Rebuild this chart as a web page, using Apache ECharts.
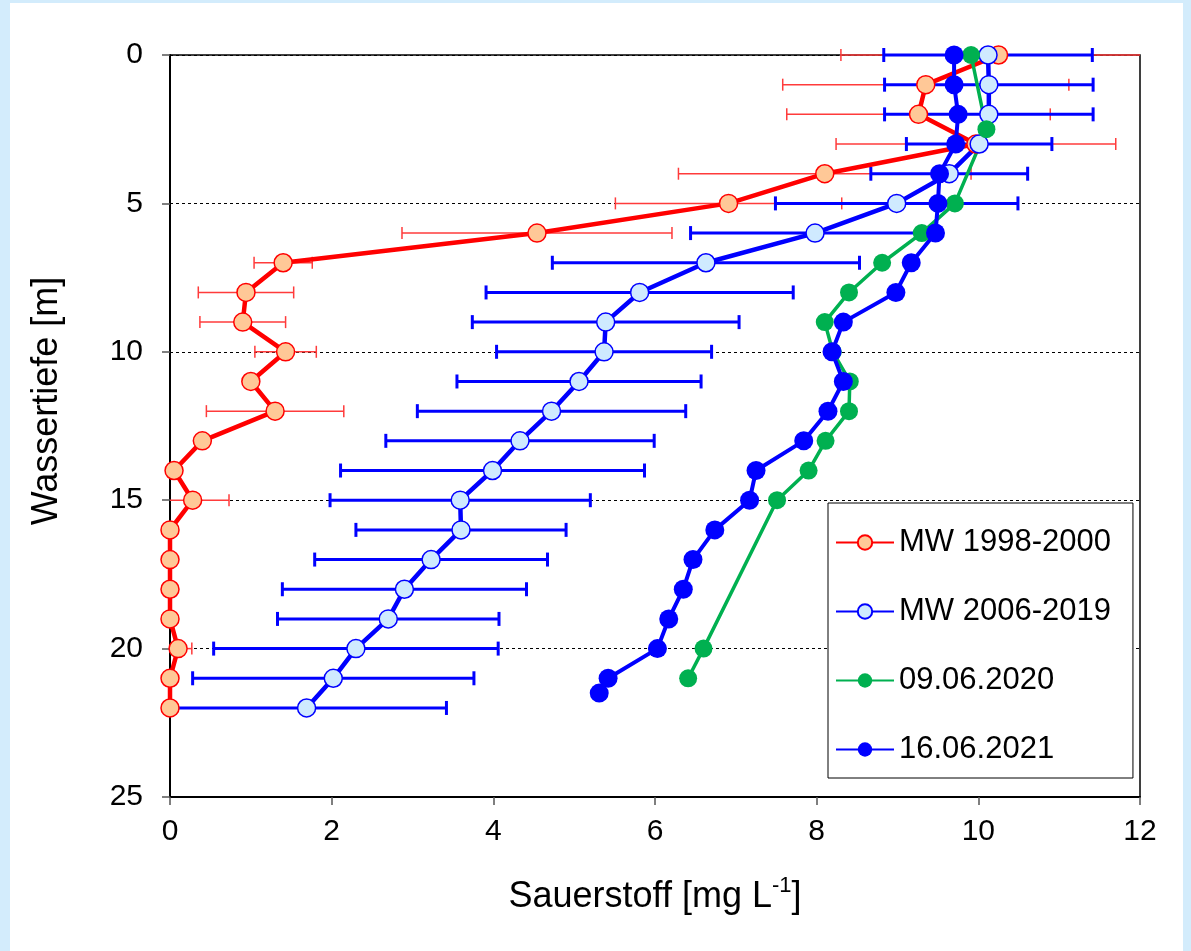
<!DOCTYPE html>
<html><head><meta charset="utf-8">
<script src="https://cdn.jsdelivr.net/npm/echarts@6/dist/echarts.min.js"></script>
<style>html,body{margin:0;padding:0;background:#d3ecfc;} #c{width:1191px;height:951px;}</style>
</head><body><div id="c"></div>
<script>
// ---- data ----
const depthsMW = [0,1,2,3,4,5,6,7,8,9,10,11,12,13,14,15,16,17,18,19,20,21,22];
const mw9800Mean = [10.25,9.35,9.26,9.97,8.10,6.91,4.54,1.40,0.94,0.90,1.43,1.00,1.30,0.40,0.05,0.28,0,0,0,0,0.10,0,0];
const mw9800Sd   = [1.95,1.77,1.63,1.73,1.81,1.40,1.67,0.36,0.59,0.53,0.38,null,0.85,null,null,0.45,null,null,null,null,0.17,null,null];
const mw0619Mean = [10.12,10.13,10.13,10.01,9.64,8.99,7.98,6.63,5.81,5.39,5.37,5.06,4.72,4.33,3.99,3.59,3.60,3.23,2.90,2.70,2.30,2.02,1.69];
const mw0619Sd   = [1.29,1.29,1.29,0.90,0.97,1.50,1.54,1.90,1.90,1.65,1.33,1.51,1.66,1.66,1.88,1.61,1.30,1.44,1.51,1.37,1.76,1.74,1.73];
const depths2020 = [0,2.5,5,6,7,8,9,10,11,12,13,14,15,20,21];
const o2_2020    = [9.91,10.10,9.71,9.30,8.81,8.40,8.10,8.20,8.41,8.40,8.11,7.90,7.51,6.60,6.41];
const depths2021 = [0,1,2,3,4,5,6,7,8,9,10,11,12,13,14,15,16,17,18,19,20,21,21.5];
const o2_2021    = [9.70,9.70,9.75,9.72,9.52,9.50,9.47,9.17,8.98,8.33,8.19,8.33,8.14,7.84,7.25,7.17,6.74,6.47,6.35,6.17,6.03,5.42,5.31];
const seriesNames = ['MW 1998-2000','MW 2006-2019','09.06.2020','16.06.2021'];
const xAxisTitle = 'Sauerstoff [mg L{sup|-1}]';
const yAxisTitle = 'Wassertiefe [m]';
const xMin = 0, xMax = 12, xStep = 2;
const yMin = 0, yMax = 25, yStep = 5;

// ---- build ----
function pairs(xs, ys){ return xs.map((d,i)=>[ys[i], d]); }
function errData(mean, sd, depths){
  const out = [];
  mean.forEach((m,i)=>{ if (sd[i] != null) out.push([m - sd[i], m + sd[i], depths[i]]); });
  return out;
}
function errRender(color, lw, capH){
  return function(params, api){
    const lo = api.value(0), hi = api.value(1), y = api.value(2);
    const p1 = api.coord([Math.max(lo, xMin), y]);
    const p2 = api.coord([Math.min(hi, xMax), y]);
    const ch = [{type:'line', shape:{x1:p1[0],y1:p1[1],x2:p2[0],y2:p2[1]}, style:{stroke:color,lineWidth:lw}}];
    if (lo >= xMin) ch.push({type:'line', shape:{x1:p1[0],y1:p1[1]-capH,x2:p1[0],y2:p1[1]+capH}, style:{stroke:color,lineWidth:lw}});
    if (hi <= xMax) ch.push({type:'line', shape:{x1:p2[0],y1:p2[1]-capH,x2:p2[0],y2:p2[1]+capH}, style:{stroke:color,lineWidth:lw}});
    return {type:'group', children: ch};
  };
}
const FF = 'Liberation Sans, Arial, sans-serif';

const chart = echarts.init(document.getElementById('c'), null, {renderer:'canvas'});
chart.setOption({
  animation:false,
  backgroundColor:'#d3ecfc',
  graphic:[
    {type:'rect', left:10, top:3, shape:{width:1173, height:948}, style:{fill:'#ffffff'}, z:-10, silent:true},
    {type:'text', x:47, y:401, rotation:Math.PI/2, silent:true, z:10,
      style:{text:yAxisTitle, fill:'#000', fontSize:36, fontFamily:FF, align:'center', verticalAlign:'middle'}}
  ],
  grid:{left:170, top:55, width:970, height:742, show:true, borderColor:'#000', borderWidth:1.5, backgroundColor:'rgba(0,0,0,0)'},
  xAxis:{type:'value', min:xMin, max:xMax, interval:xStep,
    axisLine:{show:true, onZero:false, lineStyle:{color:'#000', width:2}},
    axisTick:{show:true, inside:false, length:8, lineStyle:{color:'#555', width:1.5}},
    axisLabel:{color:'#000', fontSize:30, fontFamily:FF, margin:20},
    splitLine:{show:false},
    name:xAxisTitle, nameLocation:'middle', nameGap:78,
    nameTextStyle:{color:'#000', fontSize:36, fontFamily:FF, lineHeight:44,
      rich:{sup:{fontSize:22, fontFamily:FF, color:'#000', verticalAlign:'top', lineHeight:44}}}
  },
  yAxis:{type:'value', inverse:true, min:yMin, max:yMax, interval:yStep,
    axisLine:{show:true, onZero:false, lineStyle:{color:'#000', width:2}},
    axisTick:{show:true, inside:false, length:8, lineStyle:{color:'#555', width:1.5}},
    axisLabel:{color:'#000', fontSize:30, fontFamily:FF, margin:27},
    splitLine:{show:true, lineStyle:{color:'#000', width:1, type:[3,3]}}
  },
  legend:{orient:'vertical', left:828, top:503, data:seriesNames,
    itemWidth:58, itemHeight:18, itemGap:38,
    padding:[24,22,13,7],
    borderColor:'#000', borderWidth:1, backgroundColor:'#fff',
    textStyle:{color:'#000', fontSize:31, fontFamily:FF}},
  series:[
    {type:'custom', name:'err1', renderItem:errRender('#ff3b3b',1.5,6), data:errData(mw9800Mean, mw9800Sd, depthsMW), encode:{x:[0,1], y:2}, silent:true},
    {type:'custom', name:'err2', renderItem:errRender('#0000ff',3,7), data:errData(mw0619Mean, mw0619Sd, depthsMW), encode:{x:[0,1], y:2}, silent:true},
    {type:'line', name:seriesNames[0], data:pairs(depthsMW, mw9800Mean), symbol:'circle', symbolSize:18,
      lineStyle:{color:'#ff0000', width:4.5}, itemStyle:{color:'#ffc897', borderColor:'#ff0000', borderWidth:1.5}},
    {type:'line', name:seriesNames[1], data:pairs(depthsMW, mw0619Mean), symbol:'circle', symbolSize:18,
      lineStyle:{color:'#0000ff', width:4.5}, itemStyle:{color:'#cfeaff', borderColor:'#0000ff', borderWidth:1.5}},
    {type:'line', name:seriesNames[2], data:pairs(depths2020, o2_2020), symbol:'circle', symbolSize:18,
      lineStyle:{color:'#00b050', width:3.5}, itemStyle:{color:'#00b050', borderColor:'#00b050', borderWidth:0}},
    {type:'line', name:seriesNames[3], data:pairs(depths2021, o2_2021), symbol:'circle', symbolSize:19,
      lineStyle:{color:'#0000ff', width:4}, itemStyle:{color:'#0000ff', borderColor:'#0000ff', borderWidth:0}}
  ]
});
</script></body></html>
